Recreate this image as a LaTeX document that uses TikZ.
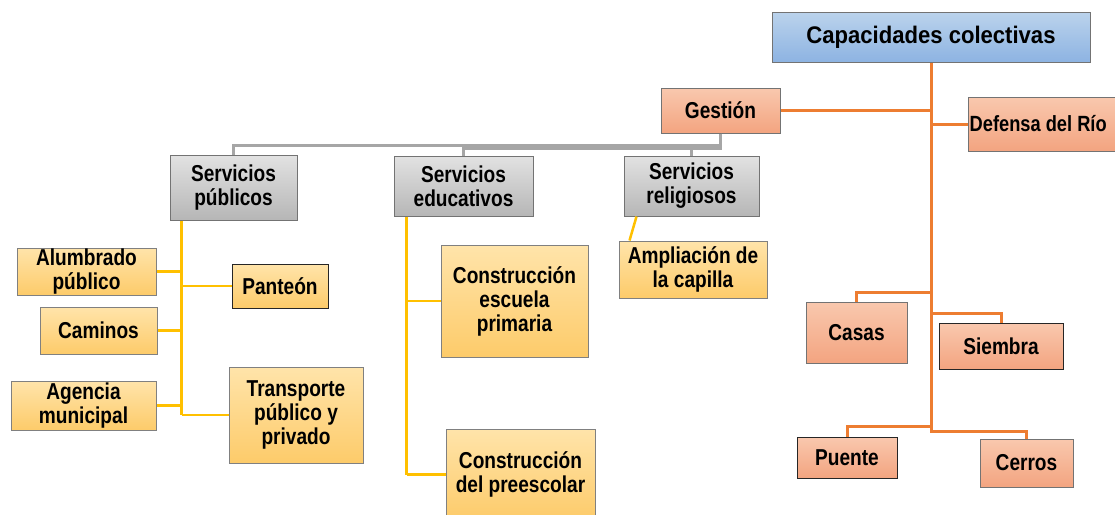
\documentclass[tikz,border=0pt]{standalone}
\usepackage{fontspec}
\setmainfont{Liberation Sans}[FakeStretch=0.83]
\newfontfamily\capfont{Liberation Sans}[FakeStretch=0.92]
\definecolor{bluetop}{HTML}{BBD3EC}
\definecolor{bluebot}{HTML}{8DB3E2}
\definecolor{ortop}{HTML}{F9C8AE}
\definecolor{orbot}{HTML}{F3A480}
\definecolor{yetop}{HTML}{FFE4AA}
\definecolor{yebot}{HTML}{FDCB6A}
\definecolor{grtop}{HTML}{E2E2E2}
\definecolor{grbot}{HTML}{B6B6B6}
\definecolor{oline}{HTML}{ED7D31}
\definecolor{yline}{HTML}{FFC000}
\definecolor{gline}{HTML}{A6A6A6}
\tikzset{
  box/.style={draw=#1, line width=1pt, rectangle, align=center, inner sep=0pt,
    font=\fontsize{23}{24}\selectfont\bfseries},
  bluebox/.style={box=black!55, top color=bluetop, bottom color=bluebot},
  orbox/.style={box=black!55, top color=ortop, bottom color=orbot},
  orboxd/.style={box=black!85, top color=ortop, bottom color=orbot},
  yebox/.style={box=black!50, top color=yetop, bottom color=yebot},
  yeboxd/.style={box=black!85, top color=yetop, bottom color=yebot},
  grbox/.style={box=black!55, top color=grtop, bottom color=grbot},
  oconn/.style={draw=oline, line width=3pt},
  yconn/.style={draw=yline, line width=2.5pt},
  gconn/.style={draw=gline, line width=2.5pt},
}
\begin{document}
\begin{tikzpicture}[x=1pt,y=-1pt]
\useasboundingbox (0,0) rectangle (1115,514);
\clip (0,0) rectangle (1115,514);
% nodes
\node[bluebox, minimum width=318pt, minimum height=50pt, font=\fontsize{24}{25}\selectfont\capfont\bfseries] (cap) at (931,37) {Capacidades colectivas};
\node[orbox, minimum width=119pt, minimum height=45pt] (gestion) at (720.5,110.5) {Gesti\'on};
\node[orbox, minimum width=162pt, minimum height=54pt, anchor=west] (defensa) at (968,124) {};
\node[anchor=west, inner sep=0pt, font=\fontsize{22}{24}\selectfont\bfseries] (defensatxt) at (969.5,124) {Defensa del R\'io};
\node[grbox, minimum width=127pt, minimum height=65pt] (publicos) at (233.5,187.5) {Servicios\\p\'ublicos};
\node[grbox, minimum width=139pt, minimum height=60pt] (educativos) at (463.5,186) {Servicios\\educativos};
\node[grbox, minimum width=135pt, minimum height=60pt] (religiosos) at (691.5,186) {Servicios\\religiosos};
\node[yebox, minimum width=139pt, minimum height=47pt] (alumbrado) at (86.5,271.5) {Alumbrado\\p\'ublico};
\node[yeboxd, minimum width=96pt, minimum height=44pt] (panteon) at (280,286) {Pante\'on};
\node[yebox, minimum width=117pt, minimum height=47pt] (caminos) at (98.5,330.5) {Caminos};
\node[yebox, minimum width=145pt, minimum height=49pt] (agencia) at (83.5,405.5) {Agencia\\municipal};
\node[yebox, minimum width=134pt, minimum height=96pt] (transporte) at (296,415) {Transporte\\p\'ublico y\\privado};
\node[yebox, minimum width=147pt, minimum height=112pt] (primaria) at (514.5,301) {Construcci\'on\\escuela\\primaria};
\node[yebox, minimum width=149pt, minimum height=91pt] (preescolar) at (520.5,474.5) {Construcci\'on\\del preescolar};
\node[yebox, minimum width=148pt, minimum height=57pt] (capilla) at (693,269.5) {Ampliaci\'on de\\la capilla};
\node[orbox, minimum width=101pt, minimum height=61pt] (casas) at (856.5,332.5) {Casas};
\node[orboxd, minimum width=124pt, minimum height=46pt] (siembra) at (1001,346) {Siembra};
\node[orboxd, minimum width=100pt, minimum height=41pt] (puente) at (847,457.5) {Puente};
\node[orbox, minimum width=93pt, minimum height=48pt] (cerros) at (1026.5,463) {Cerros};
% orange connectors
\coordinate (tend) at (931,431);
\draw[oconn] (cap.south) -- (tend);
\draw[oconn] (gestion.east) -- (gestion.east -| cap.south);
\draw[oconn] (defensa.west -| cap.south) -- (defensa.west);
\draw[oconn] (casas.north) -- ++(0,-9) -| (cap.south);
\draw[oconn] (siembra.north) -- ++(0,-9) -| (cap.south);
\draw[oconn] (puente.north) -- ++(0,-10) -| (cap.south);
\draw[oconn] (cerros.north) -- ++(0,-7) -| (cap.south);
% gray connectors
\draw[gconn] (gestion.south) -- ++(0,12) -| (publicos.north);
\draw[gconn] (gestion.south) -- ++(0,15) -| (educativos.north);
\draw[gconn] (gestion.south) -- ++(0,15) -| (religiosos.north);
% yellow connectors
\coordinate (ps) at ([xshift=12pt]publicos.south west);
\draw[yconn] (ps) -- (ps |- transporte.west);
\draw[yconn] (alumbrado.east) -- (alumbrado.east -| ps);
\draw[yconn] (panteon.west) -- (panteon.west -| ps);
\draw[yconn] (caminos.east) -- (caminos.east -| ps);
\draw[yconn] (agencia.east) -- (agencia.east -| ps);
\draw[yconn] (transporte.west) -- (transporte.west -| ps);
\coordinate (es) at ([xshift=13pt]educativos.south west);
\draw[yconn] (es) -- (es |- preescolar.west);
\draw[yconn] (primaria.west) -- (primaria.west -| es);
\draw[yconn] (preescolar.west) -- (preescolar.west -| es);
\draw[yconn] ([xshift=13pt]religiosos.south west) -- ([xshift=11pt]capilla.north west);
\end{tikzpicture}
\end{document}
